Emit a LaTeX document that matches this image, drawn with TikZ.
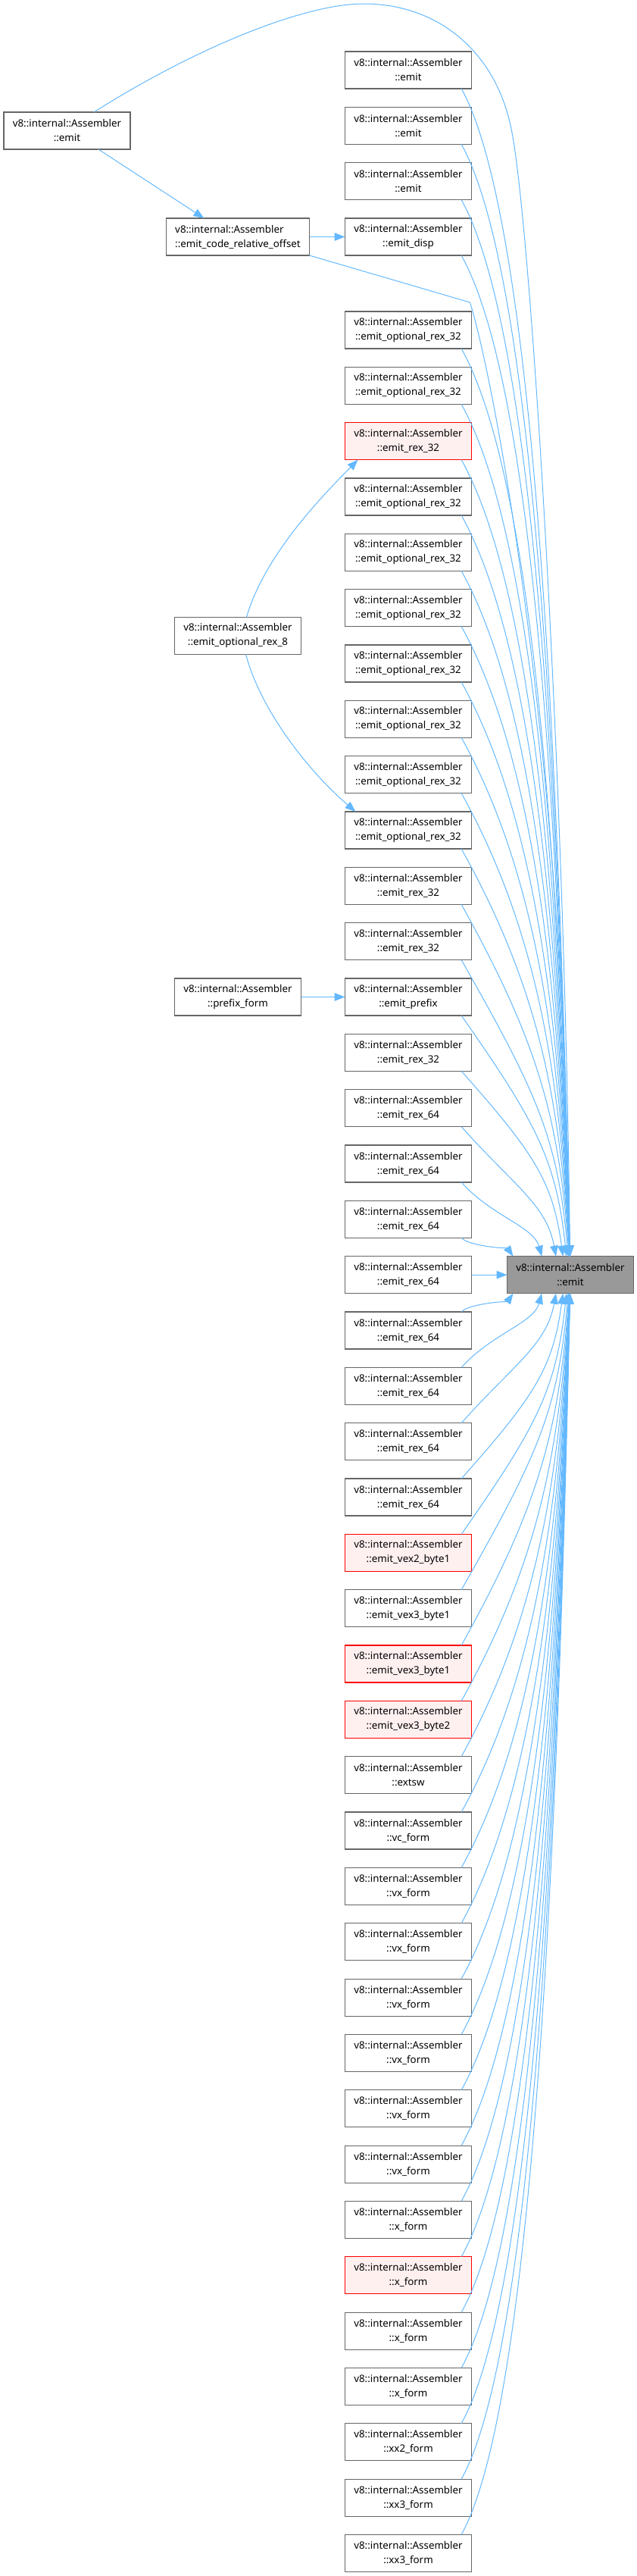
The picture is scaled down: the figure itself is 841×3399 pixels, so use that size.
\documentclass[tikz,border=0pt]{standalone}
\usepackage{fontspec}
\setmainfont{Noto Sans}
\usepackage{tikz}
\usetikzlibrary{arrows.meta, positioning, calc}
\definecolor{edgeblue}{HTML}{63B8FF}
\definecolor{boxline}{HTML}{666666}
\definecolor{selffill}{HTML}{999999}
\definecolor{redfill}{HTML}{FFF0F0}
\definecolor{redline}{HTML}{FF0000}
\tikzset{
  fn/.style={rectangle, draw=boxline, fill=white, line width=0.8pt, outer sep=0pt,
             minimum width=125.25pt, minimum height=36.75pt, inner sep=2pt,
             align=center, font=\fontsize{10}{14.25}\selectfont},
  fnred/.style={fn, draw=redline, fill=redfill},
  fnself/.style={fn, fill=selffill},
  call/.style={-{Triangle[length=10.5pt, width=8pt]}, draw=edgeblue, line width=0.75pt},
}

\begin{document}
\begin{tikzpicture}[x=0.75pt, y=0.75pt, node distance=18.25pt]
  \useasboundingbox (0,0) rectangle (841,-3399);

  \node[fn] (call1) at (539,-92.5) {v8::internal::Assembler\\::emit};
  \node[fn, below=of call1] (call2) {v8::internal::Assembler\\::emit};
  \node[fn, below=of call2] (call3) {v8::internal::Assembler\\::emit};
  \node[fn, below=of call3] (call4) {v8::internal::Assembler\\::emit\_disp};
  \node[fn, below=55.5pt of call4] (call5) {v8::internal::Assembler\\::emit\_optional\_rex\_32};
  \node[fn, below=of call5] (call6) {v8::internal::Assembler\\::emit\_optional\_rex\_32};
  \node[fnred, below=of call6] (call7) {v8::internal::Assembler\\::emit\_rex\_32};
  \node[fn, below=of call7] (call8) {v8::internal::Assembler\\::emit\_optional\_rex\_32};
  \node[fn, below=of call8] (call9) {v8::internal::Assembler\\::emit\_optional\_rex\_32};
  \node[fn, below=of call9] (call10) {v8::internal::Assembler\\::emit\_optional\_rex\_32};
  \node[fn, below=of call10] (call11) {v8::internal::Assembler\\::emit\_optional\_rex\_32};
  \node[fn, below=of call11] (call12) {v8::internal::Assembler\\::emit\_optional\_rex\_32};
  \node[fn, below=of call12] (call13) {v8::internal::Assembler\\::emit\_optional\_rex\_32};
  \node[fn, below=of call13] (call14) {v8::internal::Assembler\\::emit\_optional\_rex\_32};
  \node[fn, below=of call14] (call15) {v8::internal::Assembler\\::emit\_rex\_32};
  \node[fn, below=of call15] (call16) {v8::internal::Assembler\\::emit\_rex\_32};
  \node[fn, below=of call16] (call17) {v8::internal::Assembler\\::emit\_prefix};
  \node[fn, below=of call17] (call18) {v8::internal::Assembler\\::emit\_rex\_32};
  \node[fn, below=of call18] (call19) {v8::internal::Assembler\\::emit\_rex\_64};
  \node[fn, below=of call19] (call20) {v8::internal::Assembler\\::emit\_rex\_64};
  \node[fn, below=of call20] (call21) {v8::internal::Assembler\\::emit\_rex\_64};
  \node[fn, below=of call21] (call22) {v8::internal::Assembler\\::emit\_rex\_64};
  \node[fn, below=of call22] (call23) {v8::internal::Assembler\\::emit\_rex\_64};
  \node[fn, below=of call23] (call24) {v8::internal::Assembler\\::emit\_rex\_64};
  \node[fn, below=of call24] (call25) {v8::internal::Assembler\\::emit\_rex\_64};
  \node[fn, below=of call25] (call26) {v8::internal::Assembler\\::emit\_rex\_64};
  \node[fnred, below=of call26] (call27) {v8::internal::Assembler\\::emit\_vex2\_byte1};
  \node[fn, below=of call27] (call28) {v8::internal::Assembler\\::emit\_vex3\_byte1};
  \node[fnred, below=of call28] (call29) {v8::internal::Assembler\\::emit\_vex3\_byte1};
  \node[fnred, below=of call29] (call30) {v8::internal::Assembler\\::emit\_vex3\_byte2};
  \node[fn, below=of call30] (call31) {v8::internal::Assembler\\::extsw};
  \node[fn, below=of call31] (call32) {v8::internal::Assembler\\::vc\_form};
  \node[fn, below=of call32] (call33) {v8::internal::Assembler\\::vx\_form};
  \node[fn, below=of call33] (call34) {v8::internal::Assembler\\::vx\_form};
  \node[fn, below=of call34] (call35) {v8::internal::Assembler\\::vx\_form};
  \node[fn, below=of call35] (call36) {v8::internal::Assembler\\::vx\_form};
  \node[fn, below=of call36] (call37) {v8::internal::Assembler\\::vx\_form};
  \node[fn, below=of call37] (call38) {v8::internal::Assembler\\::vx\_form};
  \node[fn, below=of call38] (call39) {v8::internal::Assembler\\::x\_form};
  \node[fnred, below=of call39] (call40) {v8::internal::Assembler\\::x\_form};
  \node[fn, below=of call40] (call41) {v8::internal::Assembler\\::x\_form};
  \node[fn, below=of call41] (call42) {v8::internal::Assembler\\::x\_form};
  \node[fn, below=of call42] (call43) {v8::internal::Assembler\\::xx2\_form};
  \node[fn, below=of call43] (call44) {v8::internal::Assembler\\::xx3\_form};
  \node[fn, below=of call44] (call45) {v8::internal::Assembler\\::xx3\_form};

  \node[fnself, right=35.25pt of call22] (emit) {v8::internal::Assembler\\::emit};

  \node[fn] (emitL) at (88.5,-172.5) {v8::internal::Assembler\\::emit};
  \node[fn, left=35.25pt of call4, minimum width=141.75pt, align=left] (reloff)
    {v8::internal::Assembler\\::emit\_code\_relative\_offset};
  \coordinate (mid8) at ($(call10.west)!.5!(call11.west)$);
  \node[fn, left=43.5pt of mid8] (rex8) {v8::internal::Assembler\\::emit\_optional\_rex\_8};
  \node[fn, left=43.5pt of call17] (prefix) {v8::internal::Assembler\\::prefix\_form};

  \draw[call] ([xshift=31.1pt]emitL.south) -- ([xshift=-33.4pt]reloff.north);
  \draw[call] (reloff) -- (call4);
  \draw[call] (prefix) -- (call17);
  \draw[call] ([xshift=8.6pt]rex8.north) .. controls (350,-730) and (430,-650)
    .. ([xshift=12.75pt]call7.south west);
  \draw[call] ([xshift=7.9pt]rex8.south) .. controls (345,-940) and (410,-1020)
    .. ([xshift=10.5pt]call14.north west);
  \draw[call] ([xshift=26.6pt]emitL.north) .. controls (255,-65) and (400,-5) .. (480,-5)
    .. controls (580,-5) and (655,-70) .. (675,-170)
    .. controls (700,-290) and (745,-1000) .. ([xshift=62.25pt]emit.north west);
  \draw[call] (reloff.south east) -- ++(212,-62)
    .. controls (655,-510) and (745,-1000) .. ([xshift=61.5pt]emit.north west);

  % callers above and below the target
  \foreach \i in {1,...,21}{
    \pgfmathsetmacro\eoff{62.25-56.25*exp(-0.7*(21-\i))}
    \draw[call] let \p1=([xshift=-10pt]call\i.south east),
                    \p2=([xshift=\eoff pt]emit.north west) in
      (\p1) .. controls ({\x1+min(0.4*(\y1-\y2),75pt)}, {\y1-min(0.45*(\y1-\y2),135pt)})
               and ({\x2-0.1*(\x2-\x1)}, {\y2+0.4*(\y1-\y2)}) .. (\p2);
  }
  \draw[call] (call22) -- (emit);
  \foreach \i in {23,...,45}{
    \pgfmathsetmacro\eoff{62.25-56.25*exp(-0.7*(\i-23))}
    \draw[call] let \p1=([xshift=-10pt]call\i.north east),
                    \p2=([xshift=\eoff pt]emit.south west) in
      (\p1) .. controls ({\x1+min(0.4*(\y2-\y1),75pt)}, {\y1+min(0.45*(\y2-\y1),135pt)})
               and ({\x2-0.1*(\x2-\x1)}, {\y2-0.4*(\y2-\y1)}) .. (\p2);
  }
\end{tikzpicture}
\end{document}
